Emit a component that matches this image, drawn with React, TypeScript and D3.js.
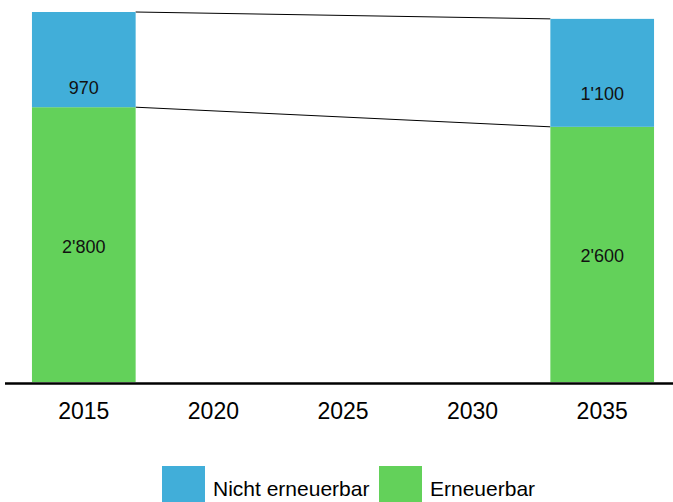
import React from "react";
import * as d3 from "d3";

const years = ["2015", "2020", "2025", "2030", "2035"];
const barYears = ["2015", "2035"];
const renewable = [2800, 2600];
const nonRenewable = [970, 1100];
const seriesNames = ["Nicht erneuerbar", "Erneuerbar"];
const colors = ["#41aed9", "#63d15a"];

const fmt = (v) => d3.format(",")(v).replace(/,/g, "'");

const App = () => {
  const width = 673;
  const height = 502;
  const baseline = 382;

  const x = d3.scaleBand().domain(years).range([19, 667]).paddingInner(0.2).paddingOuter(0.1);
  const y = d3.scaleLinear().domain([0, 3770]).range([baseline, 12]);

  const bars = barYears.map((yr, i) => {
    const x0 = x(yr);
    const g = renewable[i];
    const b = nonRenewable[i];
    return { yr, x0, g, b, gTop: y(g), bTop: y(g + b) };
  });

  const font = "'Liberation Sans', Arial, sans-serif";

  return (
    <div style={{ position: "absolute", left: 0, top: 0 }}>
      <svg width={width} height={height} style={{ display: "block" }}>
        {/* connecting lines */}
        <line x1={bars[0].x0 + x.bandwidth()} y1={bars[0].bTop} x2={bars[1].x0} y2={bars[1].bTop} stroke="#000" strokeWidth={1} />
        <line x1={bars[0].x0 + x.bandwidth()} y1={bars[0].gTop} x2={bars[1].x0} y2={bars[1].gTop} stroke="#000" strokeWidth={1} />

        {bars.map((d) => (
          <g key={d.yr}>
            <rect x={d.x0} y={d.gTop} width={x.bandwidth()} height={baseline - d.gTop} fill={colors[1]} />
            <rect x={d.x0} y={d.bTop} width={x.bandwidth()} height={d.gTop - d.bTop} fill={colors[0]} />
            <text
              x={d.x0 + x.bandwidth() / 2}
              y={(d.gTop + baseline) / 2 + 8}
              textAnchor="middle"
              fontFamily={font}
              fontSize={18}
              fill="#111"
            >
              {fmt(d.g)}
            </text>
            <text
              x={d.x0 + x.bandwidth() / 2}
              y={d.bTop + 81.5}
              textAnchor="middle"
              fontFamily={font}
              fontSize={18}
              fill="#111"
            >
              {fmt(d.b)}
            </text>
          </g>
        ))}

        {/* x axis */}
        <line x1={5} x2={673} y1={383.5} y2={383.5} stroke="#000" strokeWidth={2.5} />
        {years.map((yr) => (
          <text
            key={yr}
            x={x(yr) + x.bandwidth() / 2}
            y={419}
            textAnchor="middle"
            fontFamily={font}
            fontSize={23}
            fill="#000"
          >
            {yr}
          </text>
        ))}

        {/* legend */}
        <rect x={162} y={466} width={43} height={40} fill={colors[0]} />
        <text x={213} y={496} fontFamily={font} fontSize={21} fill="#000">
          {seriesNames[0]}
        </text>
        <rect x={379} y={466} width={43} height={40} fill={colors[1]} />
        <text x={430} y={496} fontFamily={font} fontSize={21} fill="#000">
          {seriesNames[1]}
        </text>
      </svg>
    </div>
  );
};

export default App;
